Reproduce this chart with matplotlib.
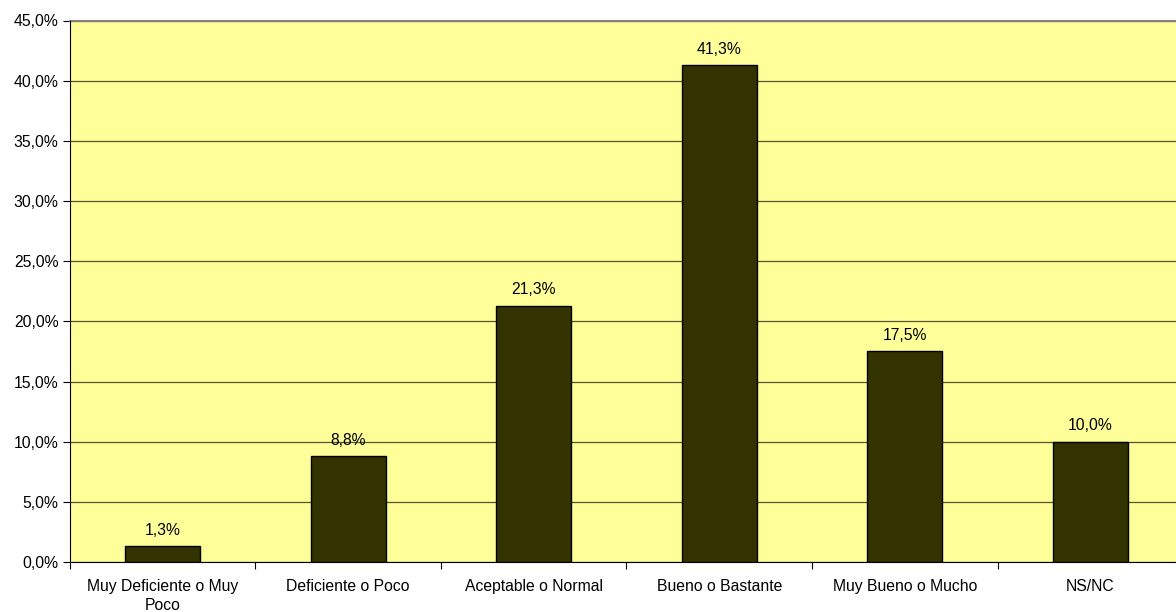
import matplotlib.pyplot as plt
from matplotlib.ticker import FuncFormatter, MultipleLocator
import numpy as np

categories = ["Muy Deficiente o Muy\nPoco", "Deficiente o Poco", "Aceptable o Normal",
              "Bueno o Bastante", "Muy Bueno o Mucho", "NS/NC"]
values = [1.3, 8.8, 21.3, 41.3, 17.5, 10.0]
labels = ["1,3%", "8,8%", "21,3%", "41,3%", "17,5%", "10,0%"]

plt.rcParams['font.family'] = ['Liberation Sans', 'DejaVu Sans']
FS = 11.3

fig = plt.figure(figsize=(11.76, 6.12), dpi=100)
W, H = 1176, 612
left, right, top, bottom = 69.7, 1183.3, 20.5, 562
ax = fig.add_axes([left / W, 1 - bottom / H, (right - left) / W, (bottom - top) / H])
ax.set_facecolor('#FFFF99')

x = np.arange(len(categories))
ax.bar(x, values, width=0.405, color='#333300', edgecolor='black', linewidth=1, zorder=3)

for xi, v, lab in zip(x, values, labels):
    ax.text(xi, v + 0.7, lab, ha='center', va='bottom', fontsize=FS, color='black', zorder=4)

ax.set_xlim(-0.5, len(categories) - 0.5)
ax.set_ylim(0, 45)
ax.yaxis.set_major_locator(MultipleLocator(5))
ax.yaxis.set_major_formatter(FuncFormatter(lambda v, p: f"{v:.1f}%".replace('.', ',')))
ax.grid(axis='y', color='#555533', linewidth=0.9, zorder=1)
ax.set_axisbelow(True)

ax.set_xticks(np.arange(-0.5, len(categories), 1.0))
ax.set_xticklabels([])
ax.set_xticks(x, minor=True)
ax.set_xticklabels(categories, minor=True, fontsize=FS, linespacing=1.4)
ax.tick_params(axis='x', which='minor', length=0, pad=12)
ax.tick_params(axis='x', which='major', length=5, width=0.8, direction='out')
ax.tick_params(axis='y', length=5, width=0.8, labelsize=FS, pad=3)

for s in ['top', 'right']:
    ax.spines[s].set_visible(False)
ax.spines['left'].set_color('black')
ax.spines['bottom'].set_color('black')
ax.axhline(45, color='#808080', linewidth=1.5, zorder=2, clip_on=False)

fig.savefig('out.png', dpi=100)
